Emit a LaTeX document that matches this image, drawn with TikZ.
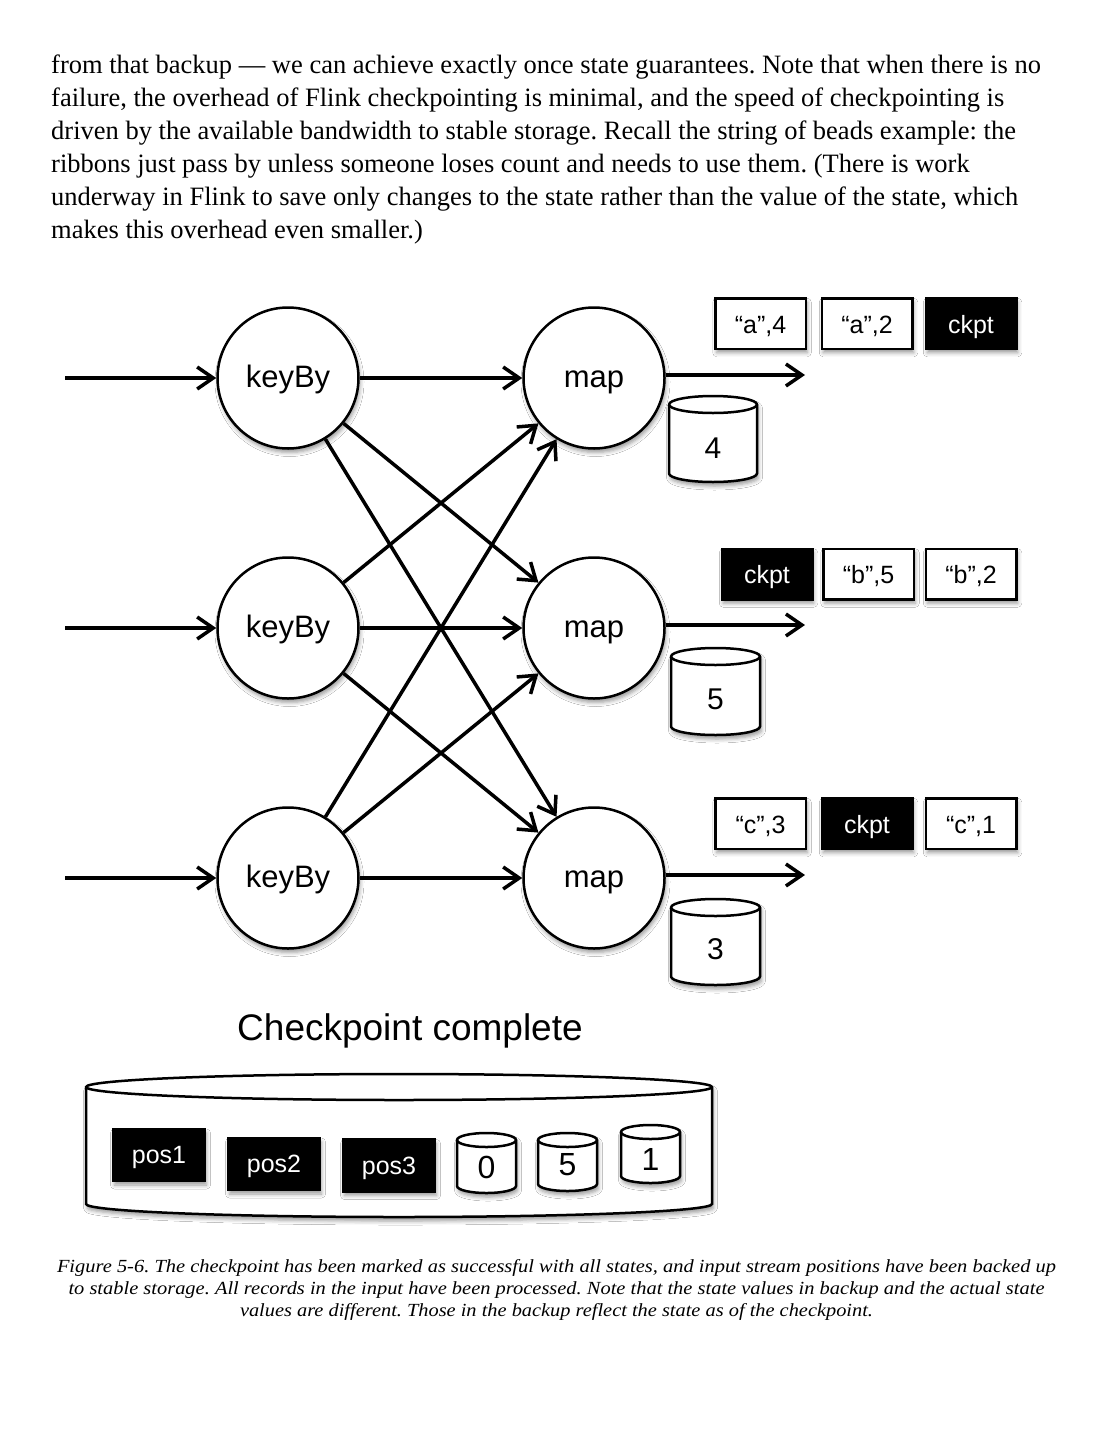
\documentclass[tikz,border=0pt]{standalone}
\usepackage{fontspec}
\usepackage{graphicx}
\setmainfont{Liberation Serif}
\newfontfamily\sansf{Liberation Sans}
\usetikzlibrary{arrows.meta,shadows.blur}
\frenchspacing
\newsavebox\fitbox
\newlength\fitlen
\newcommand\fitline[2]{\sbox\fitbox{#2}\setlength\fitlen{\wd\fitbox}\pgfmathsetmacro\fitfac{#1/\fitlen}\scalebox{\fitfac}[1]{\usebox\fitbox}}
\tikzset{
  dshadow/.style={blur shadow={shadow xshift=1.5pt, shadow yshift=-4pt, shadow blur radius=4pt, shadow opacity=40}},
  proc/.style={circle, draw, line width=2.5pt, fill=white, minimum size=141pt, inner sep=0pt, text height=25.5pt, text depth=6.5pt, font=\sansf\fontsize{31}{36}\selectfont, dshadow},
  arr/.style={line width=3.5pt, -{Straight Barb[length=16pt,width=22pt]}},
  rec/.style={draw, line width=2.5pt, fill=white, minimum width=90.5pt, minimum height=50.5pt, inner sep=0pt, text height=19pt, text depth=0pt, font=\sansf\fontsize{25}{30}\selectfont, dshadow},
  blk/.style={rec, fill=black, text=white},
  posbox/.style={blk, minimum width=92pt, minimum height=52pt, text height=17pt, text depth=0pt},
  lbl/.style={inner sep=0pt, font=\sansf\fontsize{30}{34}\selectfont},
  body/.style={anchor=base west, inner sep=0pt, font=\fontsize{26.5}{33}\selectfont},
  capt/.style={anchor=base, inner sep=0pt, font=\itshape\fontsize{18.5}{22}\selectfont}
}
% drum: left x, right x, top y, bottom y, ellipse ry, line width
\newcommand\drum[6]{%
  \pgfmathsetmacro\dcx{(#1+#2)/2}%
  \pgfmathsetmacro\drx{(#2-#1)/2}%
  \pgfmathsetmacro\dct{#3+#5}%
  \pgfmathsetmacro\dcb{#4-#5}%
  \pgfmathsetmacro\dkx{0.5523*\drx}%
  \pgfmathsetmacro\dky{0.5523*#5}%
  \filldraw[fill=white, line width=#6, dshadow] (#1,\dct) -- (#1,\dcb) .. controls (#1,\dcb+\dky) and (\dcx-\dkx,#4) .. (\dcx,#4) .. controls (\dcx+\dkx,#4) and (#2,\dcb+\dky) .. (#2,\dcb) -- (#2,\dct) .. controls (#2,\dct-\dky) and (\dcx+\dkx,#3) .. (\dcx,#3) .. controls (\dcx-\dkx,#3) and (#1,\dct-\dky) .. (#1,\dct) -- cycle;
  \draw[line width=#6] (#1,\dct) .. controls (#1,\dct+\dky) and (\dcx-\dkx,\dct+#5) .. (\dcx,\dct+#5) .. controls (\dcx+\dkx,\dct+#5) and (#2,\dct+\dky) .. (#2,\dct);
}
\begin{document}
\begin{tikzpicture}[x=1pt,y=-1pt]
\useasboundingbox (0,0) rectangle (1113,1440);
\fill[white] (0,0) rectangle (1113,1440);

% body text
\node[body] (p1) at (51,73) {from that backup — we can achieve exactly once state guarantees. Note that when there is no};
\node[body] (p2) at (51,106) {failure, the overhead of Flink checkpointing is minimal, and the speed of checkpointing is};
\node[body] (p3) at (51,139) {driven by the available bandwidth to stable storage. Recall the string of beads example: the};
\node[body] (p4) at (51,172) {ribbons just pass by unless someone loses count and needs to use them. (There is work};
\node[body] (p5) at (51,205) {underway in Flink to save only changes to the state rather than the value of the state, which};
\node[body] (p6) at (51,238) {makes this overhead even smaller.)};

% operators
\node[proc] (k1) at (288,378) {keyBy};
\node[proc] (k2) at (288,628) {keyBy};
\node[proc] (k3) at (288,878) {keyBy};
\node[proc] (m1) at (594,378) {map};
\node[proc] (m2) at (594,628) {map};
\node[proc] (m3) at (594,878) {map};

\coordinate (i1) at (65,378);
\coordinate (i2) at (65,628);
\coordinate (i3) at (65,878);
\coordinate (o1) at (805,375);
\coordinate (o2) at (805,625);
\coordinate (o3) at (805,875);

\draw[arr] (i1) -- (k1);
\draw[arr] (i2) -- (k2);
\draw[arr] (i3) -- (k3);
\draw[arr] (k1) -- (m1);
\draw[arr] (k2) -- (m2);
\draw[arr] (k3) -- (m3);
\draw[arr] (k1) -- (m2);
\draw[arr] (k1) -- (m3);
\draw[arr] (k2) -- (m1);
\draw[arr] (k2) -- (m3);
\draw[arr] (k3) -- (m1);
\draw[arr] (k3) -- (m2);
\draw[arr] (m1.east |- o1) -- (o1);
\draw[arr] (m2.east |- o2) -- (o2);
\draw[arr] (m3.east |- o3) -- (o3);

% local state drums
\drum{669}{757}{396}{482}{8.5}{2.5pt}
\node[lbl] (s1) at (713,448) {4};
\drum{671}{760}{648}{735}{8.5}{2.5pt}
\node[lbl] (s2) at (715.5,699) {5};
\drum{671}{760}{899}{985}{8.5}{2.5pt}
\node[lbl] (s3) at (715.5,949) {3};

% records
\node[rec] (a4) at (760.5,323.5) {“a”,4};
\node[rec] (a2) at (867,323.5) {“a”,2};
\node[blk] (c1) at (971,323.5) {ckpt};
\node[blk] (c2) at (767,574) {ckpt};
\node[rec] (b5) at (868.5,574) {“b”,5};
\node[rec] (b2) at (971,574) {“b”,2};
\node[rec] (c3) at (760.5,823.5) {“c”,3};
\node[blk] (c4) at (867,823.5) {ckpt};
\node[rec] (cc1) at (971,823.5) {“c”,1};

% checkpoint storage
\node[inner sep=0pt, font=\sansf\fontsize{37}{42}\selectfont] (title) at (410,1031) {Checkpoint complete};
\drum{86}{712}{1074}{1217}{13}{2.5pt}
\node[posbox] (q1) at (159,1155) {pos1};
\node[posbox] (q2) at (274,1164) {pos2};
\node[posbox] (q3) at (389,1165.5) {pos3};
\drum{457}{516}{1133}{1193}{7}{2.5pt}
\node[lbl, font=\sansf\fontsize{32}{36}\selectfont] (z0) at (486.5,1167) {0};
\drum{538}{597}{1133}{1191}{7}{2.5pt}
\node[lbl, font=\sansf\fontsize{32}{36}\selectfont] (z5) at (567.5,1165) {5};
\drum{621}{680}{1125}{1183}{7}{2.5pt}
\node[lbl, font=\sansf\fontsize{32}{36}\selectfont] (z1) at (650.5,1159) {1};

% caption
\node[capt] (f1) at (556.5,1272) {\fitline{999}{Figure 5-6. The checkpoint has been marked as successful with all states, and input stream positions have been backed up}};
\node[capt] (f2) at (556.5,1294) {\fitline{976}{to stable storage. All records in the input have been processed. Note that the state values in backup and the actual state}};
\node[capt] (f3) at (556.5,1316) {\fitline{633}{values are different. Those in the backup reflect the state as of the checkpoint.}};
\end{tikzpicture}
\end{document}
